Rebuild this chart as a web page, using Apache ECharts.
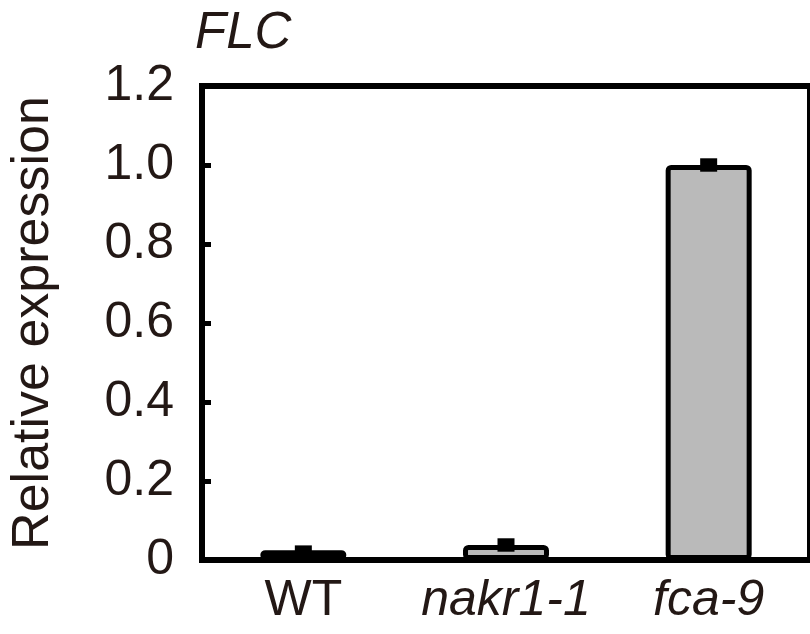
<!DOCTYPE html>
<html>
<head>
<meta charset="utf-8">
<script src="https://cdn.jsdelivr.net/npm/echarts@6/dist/echarts.min.js"></script>
<style>
  html, body { margin: 0; padding: 0; background: #fff; }
  #chart { width: 810px; height: 634px; }
</style>
</head>
<body>
<div id="chart"></div>
<script>
const categories = ['WT', 'nakr1-1', 'fca-9']
const italicLabel = [false, true, true]
const means = [0.025, 0.038, 1.0]
const errors = [0.012, 0.017, 0.017]
const yTicks = [0, 0.2, 0.4, 0.6, 0.8, 1.0, 1.2]

const ink = '#231815'
const font = 'Liberation Sans, Arial, sans-serif'

const chart = echarts.init(document.getElementById('chart'))

chart.setOption({
  animation: false,
  title: {
    text: 'FLC',
    left: 190,
    top: 3,
    textStyle: { fontFamily: font, fontSize: 51, fontStyle: 'italic', fontWeight: 'normal', color: ink }
  },
  grid: {
    left: 193, right: -1, top: 86, bottom: 74,
    show: true, borderColor: '#000', borderWidth: 6
  },
  xAxis: {
    type: 'category',
    data: categories,
    axisLine: { lineStyle: { color: '#000', width: 6 } },
    axisTick: { inside: true, length: 9, lineStyle: { color: '#000', width: 5 } },
    axisLabel: {
      interval: 0,
      hideOverlap: false,
      margin: 16,
      fontFamily: font,
      fontSize: 50,
      color: ink,
      formatter: (v, i) => italicLabel[i] ? '{i|' + v + '}' : v,
      rich: { i: { fontFamily: font, fontSize: 50, fontStyle: 'italic', color: ink } }
    }
  },
  yAxis: {
    type: 'value',
    min: 0, max: 1.2, interval: 0.2,
    name: 'Relative expression',
    nameLocation: 'middle',
    nameGap: 142,
    nameTextStyle: { fontFamily: font, fontSize: 52, color: ink },
    splitLine: { show: false },
    axisLine: { show: true, lineStyle: { color: '#000', width: 6 } },
    axisTick: { show: true, inside: true, length: 9, lineStyle: { color: '#000', width: 5 } },
    axisLabel: {
      margin: 28,
      fontFamily: font,
      fontSize: 50,
      color: ink,
      formatter: v => {
        const t = yTicks.find(x => Math.abs(x - v) < 1e-9)
        return t === 0 ? '0' : t.toFixed(1)
      }
    }
  },
  series: [
    {
      type: 'bar',
      data: means,
      barWidth: 86,
      itemStyle: { color: '#bababa', borderColor: '#000', borderWidth: 5, borderRadius: 3 },
      z: 2
    },
    {
      type: 'custom',
      z: 3,
      data: means.map((m, i) => [i, m, errors[i]]),
      renderItem: (params, api) => {
        const i = api.value(0)
        const hi = api.coord([i, api.value(1) + api.value(2)])
        const lo = api.coord([i, api.value(1) - api.value(2)])
        const w = 17
        return {
          type: 'rect',
          shape: { x: hi[0] - w / 2, y: hi[1], width: w, height: lo[1] - hi[1] },
          style: { fill: '#000' }
        }
      }
    }
  ]
})
</script>
</body>
</html>
